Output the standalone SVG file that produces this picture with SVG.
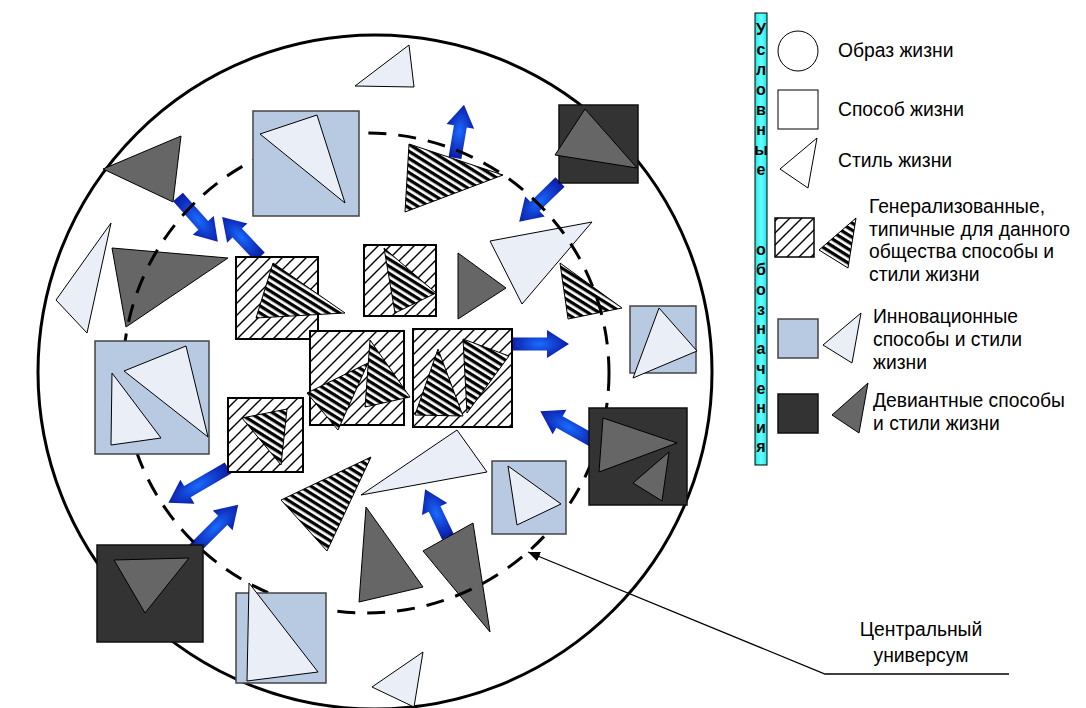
<svg xmlns="http://www.w3.org/2000/svg" width="1086" height="708" viewBox="0 0 1086 708">
<defs>
<style>
.light{fill:#eaeff7;stroke:#000;stroke-width:1}
.dark{fill:#666;stroke:#000;stroke-width:1}
.stripe{fill:url(#stripes);stroke:#000;stroke-width:1}
.bsq{fill:#b8c9e2;stroke:#444;stroke-width:1.5}
.dsq{fill:#333;stroke:#111;stroke-width:1.5}
.hsq{fill:url(#hatch);stroke:#000;stroke-width:2}
.arr{fill:url(#ag)}
.t{font-family:"Liberation Sans",Arial,sans-serif;font-size:19.3px;fill:#000}
.v{font-family:"Liberation Sans",Arial,sans-serif;font-size:16px;font-weight:bold;fill:#000;text-anchor:middle}
</style>
<pattern id="hatch" patternUnits="userSpaceOnUse" width="12" height="12">
<rect width="12" height="12" fill="#fff"/>
<path d="M0,12 L12,0 M-3,3 L3,-3 M9,15 L15,9" stroke="#000" stroke-width="1.4"/>
</pattern>
<pattern id="stripes" patternUnits="userSpaceOnUse" width="6" height="6" patternTransform="rotate(32)">
<rect width="6" height="6" fill="#fff"/>
<rect width="6" height="3.3" fill="#000"/>
</pattern>
<radialGradient id="ag" cx="0.5" cy="0.5" r="0.55">
<stop offset="0" stop-color="#1a6cff"/>
<stop offset="1" stop-color="#0a14a0"/>
</radialGradient>
<linearGradient id="cyan" x1="0" y1="0" x2="1" y2="0">
<stop offset="0" stop-color="#22e6e6"/>
<stop offset="0.5" stop-color="#66ffff"/>
<stop offset="1" stop-color="#22e6e6"/>
</linearGradient>
<marker id="mh" markerWidth="12" markerHeight="10" refX="12" refY="5" orient="auto-start-reverse" markerUnits="userSpaceOnUse">
<path d="M0,0 L12,5 L0,10 Z" fill="#000"/>
</marker>
</defs>

<g id="universe">
<circle cx="375" cy="372" r="337" fill="none" stroke="#000" stroke-width="3"/>
</g>

<g id="connectors">
<path class="arr" transform="translate(178,197) rotate(48.4)" d="M0,-6.5 L38,-6.5 L38,-14 L60,0 L38,14 L38,6.5 L0,6.5 Z"/>
<path class="arr" transform="translate(260,257) rotate(226.5)" d="M0,-6.5 L33,-6.5 L33,-14 L55,0 L33,14 L33,6.5 L0,6.5 Z"/>
<path class="arr" transform="translate(455,158) rotate(-80.4)" d="M0,-6.5 L32,-6.5 L32,-14 L54,0 L32,14 L32,6.5 L0,6.5 Z"/>
<path class="arr" transform="translate(560,182) rotate(135.7)" d="M0,-6.5 L35,-6.5 L35,-14 L57,0 L35,14 L35,6.5 L0,6.5 Z"/>
<path class="arr" transform="translate(510,344) rotate(0)" d="M0,-6.5 L37,-6.5 L37,-14 L59,0 L37,14 L37,6.5 L0,6.5 Z"/>
<path class="arr" transform="translate(597,443) rotate(209.3)" d="M0,-6.5 L43,-6.5 L43,-14 L65,0 L43,14 L43,6.5 L0,6.5 Z"/>
<path class="arr" transform="translate(448,537) rotate(-115.6)" d="M0,-6.5 L31,-6.5 L31,-14 L53,0 L31,14 L31,6.5 L0,6.5 Z"/>
<path class="arr" transform="translate(228,468) rotate(149.7)" d="M0,-6.5 L47,-6.5 L47,-14 L69,0 L47,14 L47,6.5 L0,6.5 Z"/>
<path class="arr" transform="translate(193,550) rotate(-45)" d="M0,-6.5 L42,-6.5 L42,-14 L64,0 L42,14 L42,6.5 L0,6.5 Z"/>
</g>

<g id="styles">
<polygon class="light" points="355,86 409,45 414,87"/>
<polygon class="dark" points="103,169 181,136 173,202"/>
<polygon class="light" points="56,300 111,223 87,333"/>
<polygon class="dark" points="112,248 228,258 126,327"/>
<polygon class="stripe" points="409,144 503,175 405,212"/>
<polygon class="dark" points="458,253 506,288 458,319"/>
<polygon class="light" points="490,241 592,222 522,304"/>
<polygon class="stripe" points="560,263 622,308 568,319"/>
<polygon class="stripe" points="281,500 371,457 327,551"/>
<polygon class="light" points="361,495 457,430 487,472"/>
<polygon class="dark" points="366,507 423,587 359,602"/>
<polygon class="dark" points="423,551 473,523 490,632"/>
<polygon class="light" points="372,687 423,652 414,707"/>
</g>

<g id="central-universe">
<ellipse cx="366" cy="373" rx="243" ry="240" fill="none" stroke="#000" stroke-width="3" stroke-dasharray="18 12"/>
</g>

<g id="innov-1"><rect class="bsq" x="253" y="111" width="106" height="105"/><polygon class="light" points="260,134 317,115 345,203"/></g>
<g id="dev-1"><rect class="dsq" x="559" y="105" width="79" height="78"/><polygon class="dark" points="585,109 637,168 555,155"/></g>
<g id="gen-1"><rect class="hsq" x="236" y="257" width="82" height="82"/><polygon class="stripe" points="273,263 345,313 256,318"/></g>
<g id="gen-2"><rect class="hsq" x="364" y="245" width="72" height="71"/><polygon class="stripe" points="384,248 436,293 395,313"/></g>
<g id="innov-2"><rect class="bsq" x="630" y="306" width="66" height="67"/><polygon class="light" points="659,308 697,351 633,378"/></g>
<g id="gen-3"><rect class="hsq" x="310" y="331" width="94" height="94"/><polygon class="stripe" points="370,340 410,397 365,407"/><polygon class="stripe" points="307,393 368,363 338,430"/></g>
<g id="gen-4"><rect class="hsq" x="413" y="329" width="99" height="98"/><polygon class="stripe" points="438,349 463,416 415,415"/><polygon class="stripe" points="463,339 509,356 467,413"/></g>
<g id="innov-3"><rect class="bsq" x="95" y="341" width="114" height="113"/><polygon class="light" points="124,371 186,346 208,437"/><polygon class="light" points="112,373 161,438 111,445"/></g>
<g id="gen-5"><rect class="hsq" x="228" y="398" width="75" height="74"/><polygon class="stripe" points="242,418 287,409 281,465"/></g>
<g id="dev-2"><rect class="dsq" x="589" y="408" width="98" height="97"/><polygon class="dark" points="603,418 677,443 599,472"/><polygon class="dark" points="633,483 669,452 662,501"/></g>
<g id="innov-4"><rect class="bsq" x="492" y="461" width="74" height="73"/><polygon class="light" points="508,466 561,504 517,525"/></g>
<g id="dev-3"><rect class="dsq" x="97" y="545" width="106" height="97"/><polygon class="dark" points="114,560 189,558 145,613"/></g>
<g id="innov-5"><rect class="bsq" x="236" y="593" width="90" height="90"/><polygon class="light" points="249,583 318,672 247,681"/></g>

<g id="label-central">
<polyline points="528,552 825,674 1009,674" fill="none" stroke="#000" stroke-width="1.3" marker-start="url(#mh)"/>
<text class="t" x="921" y="636" text-anchor="middle">Центральный</text>
<text class="t" x="921" y="662" text-anchor="middle">универсум</text>
</g>

<g id="legend">
<rect x="755" y="13" width="12" height="452" fill="url(#cyan)" stroke="#000" stroke-width="1"/>
<text class="v" x="761" y="35">У</text>
<text class="v" x="761" y="55">с</text>
<text class="v" x="761" y="75">л</text>
<text class="v" x="761" y="95">о</text>
<text class="v" x="761" y="115">в</text>
<text class="v" x="761" y="135">н</text>
<text class="v" x="761" y="155">ы</text>
<text class="v" x="761" y="175">е</text>
<text class="v" x="761" y="255">о</text>
<text class="v" x="761" y="275">б</text>
<text class="v" x="761" y="295">о</text>
<text class="v" x="761" y="315">з</text>
<text class="v" x="761" y="334">н</text>
<text class="v" x="761" y="354">а</text>
<text class="v" x="761" y="374">ч</text>
<text class="v" x="761" y="394">е</text>
<text class="v" x="761" y="413">н</text>
<text class="v" x="761" y="433">и</text>
<text class="v" x="761" y="452">я</text>

<g id="leg-lifestyle-image"><circle cx="798" cy="51" r="20" fill="#fff" stroke="#000" stroke-width="1"/><text class="t" x="838" y="57">Образ жизни</text></g>
<g id="leg-way"><rect x="778" y="90" width="40" height="39" fill="#fff" stroke="#000" stroke-width="1"/><text class="t" x="838" y="116">Способ жизни</text></g>
<g id="leg-style"><polygon points="780,169 817,138 808,188" fill="#fff" stroke="#000" stroke-width="1"/><text class="t" x="838" y="167">Стиль жизни</text></g>
<g id="leg-gen"><rect class="hsq" x="775" y="218" width="39" height="39" style="stroke-width:1.5"/><polygon class="stripe" points="819,250 856,218 848,268"/>
<text class="t" x="869" y="213">Генерализованные,</text>
<text class="t" x="869" y="236">типичные для данного</text>
<text class="t" x="869" y="258">общества способы и</text>
<text class="t" x="869" y="281">стили жизни</text></g>
<g id="leg-innov"><rect class="bsq" x="778" y="319" width="40" height="39"/><polygon class="light" points="823,345 861,313 852,363"/>
<text class="t" x="873" y="323">Инновационные</text>
<text class="t" x="873" y="346">способы и стили</text>
<text class="t" x="873" y="369">жизни</text></g>
<g id="leg-dev"><rect class="dsq" x="778" y="394" width="40" height="39"/><polygon class="dark" points="832,415 868,383 859,433"/>
<text class="t" x="873" y="407">Девиантные способы</text>
<text class="t" x="873" y="430">и стили жизни</text></g>
</g>
</svg>
